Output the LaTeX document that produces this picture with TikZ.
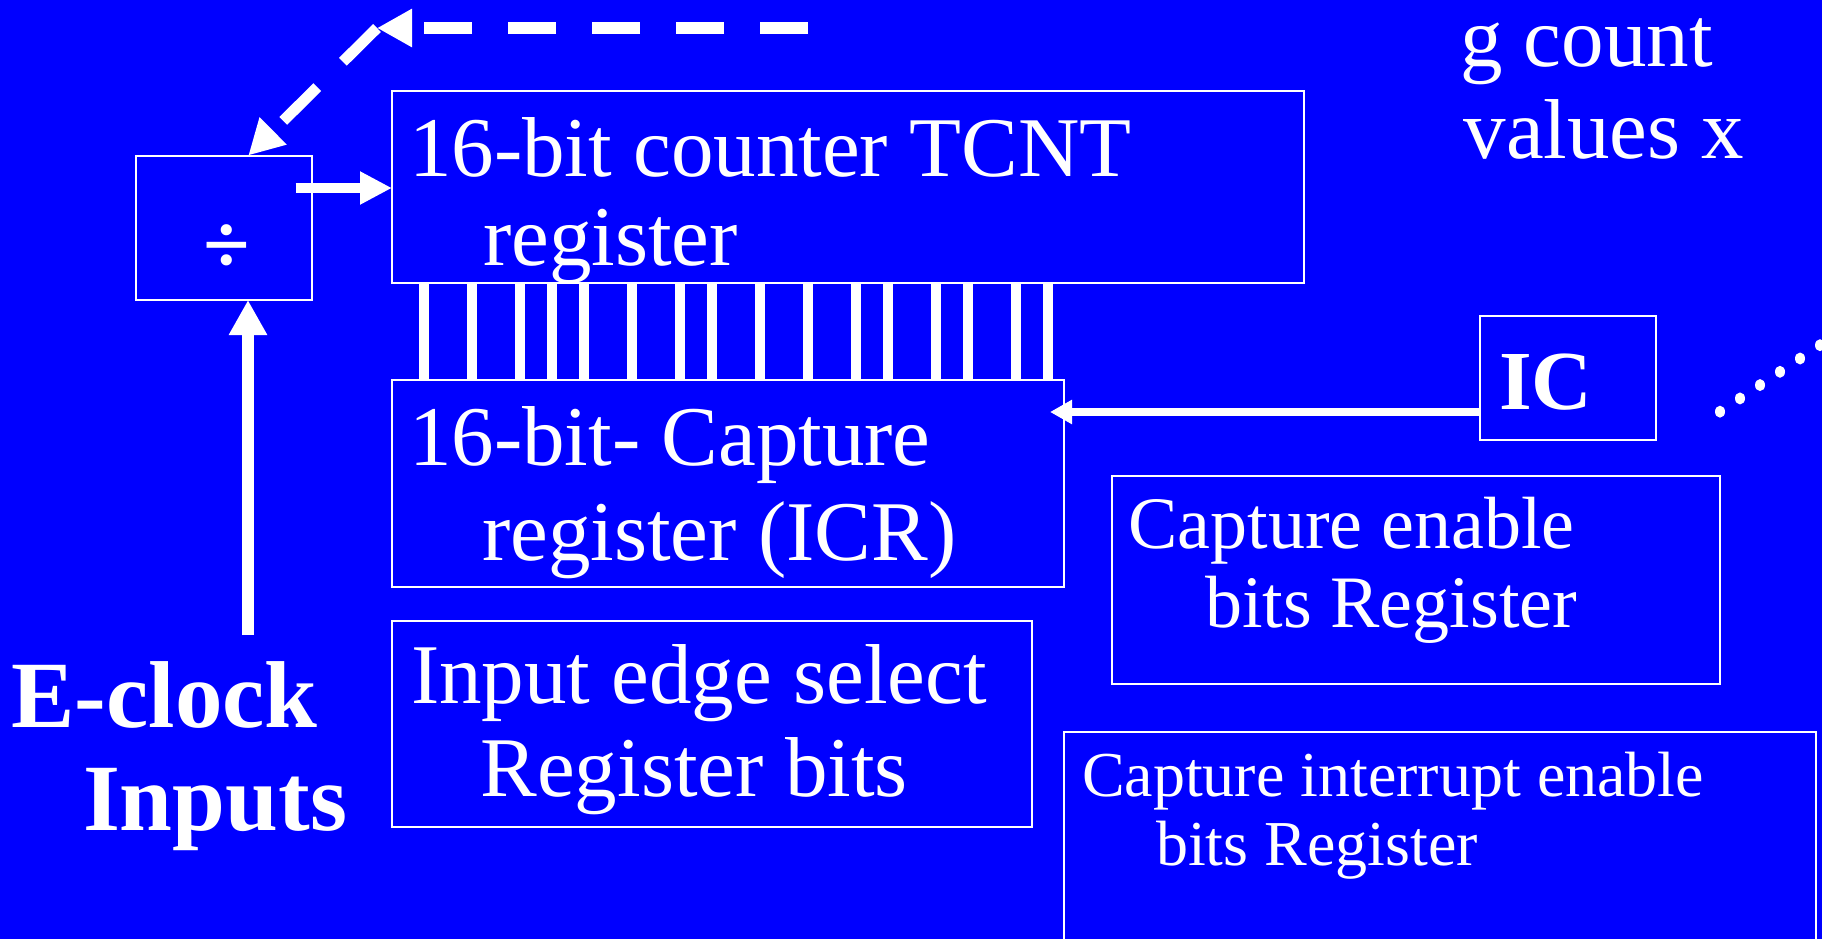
\documentclass[tikz,border=0pt]{standalone}
\usepackage{fontspec}
\setmainfont{Liberation Serif}
\usetikzlibrary{arrows.meta,calc}
\definecolor{slide}{RGB}{0,0,255}
\begin{document}
\begin{tikzpicture}[x=1pt,y=-1pt,
  box/.style={draw=white, line width=2pt, outer sep=0pt, inner sep=0pt, anchor=north west},
  lbl/.style={text=white, anchor=base west, inner sep=0pt, outer sep=0pt},
  big/.style={lbl, font=\fontsize{85}{90}\selectfont},
  mid/.style={lbl, font=\fontsize{74}{80}\selectfont},
  small/.style={lbl, font=\fontsize{64}{70}\selectfont},
  heavy/.style={lbl, font=\fontsize{95}{100}\selectfont\bfseries},
  flow/.style={white, line width=#1},
  bus/.style={white, line width=10pt},
  dot/.style={white},
]
\useasboundingbox (0,0) rectangle (1822,939);
\clip (0,0) rectangle (1822,939);
\fill[slide] (0,0) rectangle (1822,939);

% register blocks
\node[box, minimum width=175.5pt, minimum height=144.5pt] (div) at (136,155.5) {};
\node[text=white, font=\fontsize{85}{90}\selectfont\bfseries, inner sep=0pt] (divsym) at (226.5,249) {÷};
\node[box, minimum width=912pt, minimum height=191.5pt] (counter) at (392,91.5) {};
\node[box, minimum width=672pt, minimum height=207.5pt] (capture) at (392,379.5) {};
\node[box, minimum width=176.5pt, minimum height=124pt] (ic) at (1479.5,316) {};
\node[box, minimum width=608pt, minimum height=208pt] (cen) at (1112,475.5) {};
\node[box, minimum width=640pt, minimum height=206.5pt] (ies) at (392,620.5) {};
\node[box, minimum width=752pt, minimum height=260pt] (cie) at (1064,731.7) {};

% texts
\node[big] (t1a) at (409,176) {16-bit counter TCNT};
\node[big] (t1b) at (483,265) {register};
\node[big] (t2a) at (409,465) {16-bit- Capture};
\node[big] (t2b) at (482,560) {register (ICR)};
\node[big] (t3a) at (411,703) {Input edge select};
\node[big] (t3b) at (480.5,796) {Register bits};
\node[mid] (t4a) at (1128.5,548.5) {Capture enable};
\node[mid] (t4b) at (1205,627.5) {bits Register};
\node[small] (t5a) at (1082,796.7) {Capture interrupt enable};
\node[small] (t5b) at (1156,865) {bits Register};
\node[big] (t6a) at (1460,66.7) {g count};
\node[big] (t6b) at (1463.5,158) {values x};
\node[heavy] (t7a) at (11.5,727) {E-clock};
\node[heavy] (t7b) at (83,830) {Inputs};
\node[lbl, font=\fontsize{84}{90}\selectfont\bfseries] (icl) at (1499,409) {IC};

% 16 parallel lines from the counter into the capture register
\foreach \dx in {32,80,128,160,192,240,288,320,368,416,464,496,544,576,624,656}
  \draw[bus] ($(counter.south west)+(\dx,0)$) -- ($(capture.north west)+(\dx,0)$);

% clock into the prescaler, prescaler into the counter
\coordinate (ein) at (248,635);
\draw[flow=12pt, -{Triangle[length=35pt,width=36pt]}] (ein) -- (ein |- div.south);
\coordinate (pout) at ($(div.north east)+(-16,32.5)$);
\draw[flow=10.7pt, -{Triangle[length=32pt,width=31pt]}] (pout) -- (pout -| counter.west);

% dashed feedback to the prescaler
\coordinate (fbk) at (808,28);
\coordinate (bend) at (377,28);
\coordinate (divtop) at ($(div.north west)+(112.3,0)$);
\draw[flow=12pt, dash pattern=on 48pt off 36pt, -{Triangle[length=35pt,width=36pt]}] (fbk) -- (bend);
\draw[flow=11pt, dash pattern=on 48pt off 36pt, -{Triangle[length=35pt,width=36pt]}] (bend) -- (divtop);

% input capture pin into the capture register
\coordinate (icout) at ($(ic.south west)+(0,-28)$);
\draw[flow=8.3pt, -{Triangle[length=22pt,width=23pt]}] (icout) -- ($(icout -| capture.east)+(-14,0)$);

% dotted trail
\foreach \i in {0,...,5}
  \fill[dot] ({1720+20*\i},{411.7-13.3*\i}) ellipse [x radius=5pt, y radius=6pt];
\end{tikzpicture}
\end{document}
